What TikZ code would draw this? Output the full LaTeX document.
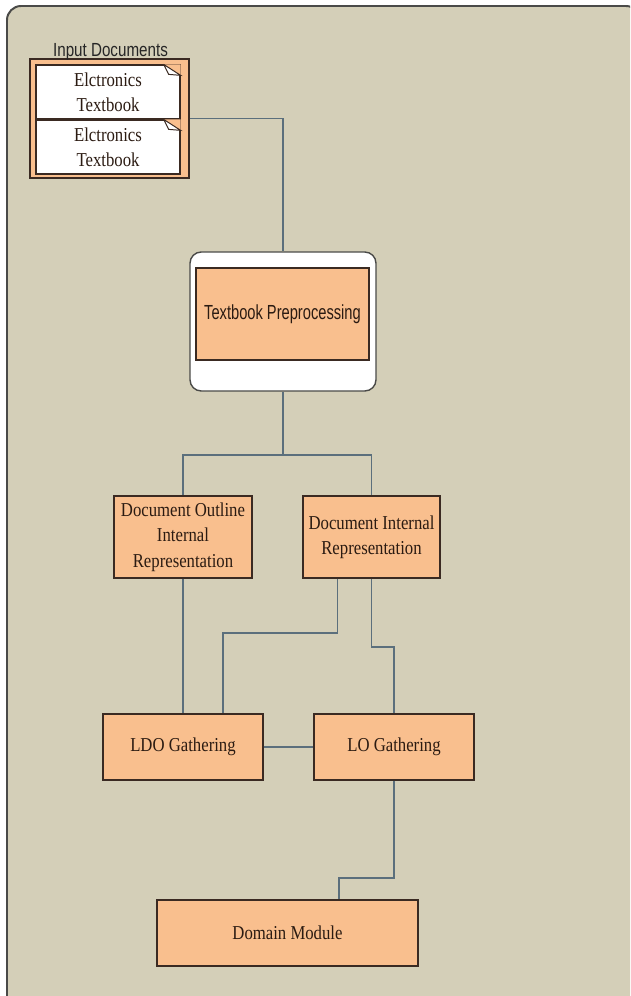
\documentclass[tikz,border=0pt]{standalone}
\usepackage{fontspec}
\setmainfont[FakeStretch=0.85]{Liberation Serif}
\newfontfamily\narrowsans[FakeStretch=0.72]{Liberation Sans}
\newfontfamily\labelsans[FakeStretch=0.8]{Liberation Sans}
\usepackage{tikz}
\usetikzlibrary{positioning,calc}

\definecolor{panel}{HTML}{D4CFB8}
\definecolor{panelline}{HTML}{4A4A48}
\definecolor{boxfill}{HTML}{F9BF8E}
\definecolor{boxline}{HTML}{3A2A22}
\definecolor{linkcol}{HTML}{5B6F7C}
\definecolor{boxtext}{HTML}{2B1B12}

\newcommand{\boxfont}{\fontsize{14pt}{18pt}\selectfont}

\begin{document}
\begin{tikzpicture}[x=0.25mm,y=-0.25mm,
  box/.style={draw=boxline,fill=boxfill,line width=0.9pt,align=center,inner sep=0pt,
    text=boxtext,font=\boxfont},
  doc/.style={box,fill=white,minimum width=36mm,minimum height=13.5mm},
  link/.style={draw=linkcol,line width=1pt}]

\useasboundingbox (0,0) rectangle (630,996);
\clip (0,0) rectangle (630,996);
\draw[panelline,line width=1.4pt,fill=panel,rounded corners=10pt] (7,6) rectangle (640,1030);

% input documents
\node[box,minimum width=39.75mm,minimum height=29.75mm] (inbox) at (109.5,118.5) {};
\node[anchor=base,font=\labelsans\fontsize{13.5pt}{15pt}\selectfont,text=black!85] (inlabel) at (110.5,57) {Input Documents};
\node[doc] (d1) at (108,92) {Elctronics\\Textbook};
\node[doc] (d2) at (108,147) {Elctronics\\Textbook};
\foreach \d in {d1,d2}{
  \fill[boxfill] ($(\d.north east)+(-17,0)$) -- (\d.north east) -- ($(\d.north east)+(0,11)$) -- cycle;
  \draw[boxline,line width=0.7pt] ($(\d.north east)+(-17,0)$) -- ($(\d.north east)+(-12,10)$)
    -- ($(\d.north east)+(0,11)$) -- ($(\d.north east)+(-17,0)$);
}

% preprocessing
\node[draw=panelline,fill=white,line width=1pt,rounded corners=8pt,minimum width=46.5mm,minimum height=34.75mm] (prep) at (283,321.5) {};
\node[box,minimum width=43.25mm,minimum height=23mm,font=\narrowsans\fontsize{14.5pt}{16pt}\selectfont] (prepin) at (282.5,314) {Textbook Preprocessing};

% representations
\node[box,minimum width=34.5mm,minimum height=20.5mm] (doir) at (183,537) {Document Outline\\Internal\\Representation};
\node[box,minimum width=34.25mm,minimum height=20.5mm] (dir) at (371.5,537) {Document Internal\\Representation};

% gathering
\node[box,minimum width=40mm,minimum height=16.5mm] (ldo) at (183,747) {LDO Gathering};
\node[box,minimum width=40mm,minimum height=16.5mm] (lo) at (394,747) {LO Gathering};
\node[box,minimum width=65.25mm,minimum height=16.5mm] (domain) at (287.5,933) {Domain Module};

% connectors
\coordinate (fork) at (283,455);
\draw[link] (inbox.east) -| (prep.north);
\draw[link] (prep.south) -- (fork);
\draw[link] (fork) -| (doir.north);
\draw[link] (fork) -| (dir.north);
\draw[link] (doir.south) -- (ldo.north);
\draw[link] ($(dir.south)+(-34,0)$) |- (223,633) -- ($(ldo.north)+(40,0)$);
\draw[link] (dir.south) |- (394,647) -- (lo.north);
\draw[link] (ldo.east) -- (lo.west);
\draw[link] (lo.south) |- (339,878) -- ($(domain.north)+(51.5,0)$);
\end{tikzpicture}
\end{document}
